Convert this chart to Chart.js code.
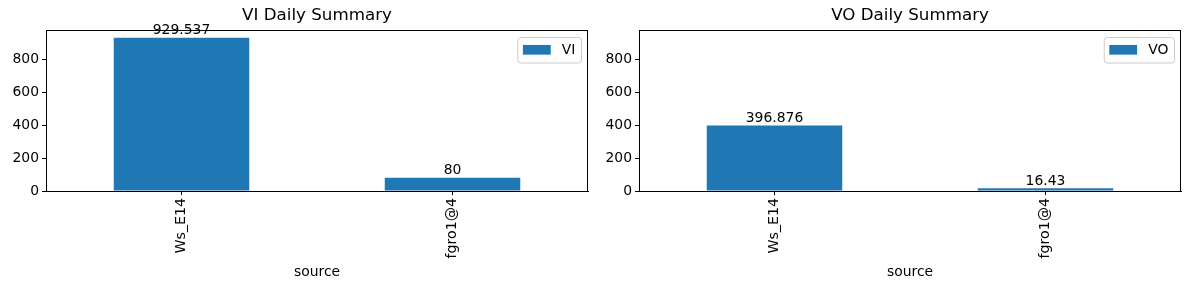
<!DOCTYPE html>
<html>
<head>
<meta charset="utf-8">
<script src="https://cdn.jsdelivr.net/npm/chart.js@4.4.1/dist/chart.umd.min.js"></script>
<style>
  html, body { margin: 0; padding: 0; background: #fff; }
  #wrap { position: relative; width: 1189px; height: 290px; }
  .panel { position: absolute; top: 0; height: 290px; }
</style>
</head>
<body>
<div id="wrap">
  <div class="panel" style="left:0;width:594px"><canvas id="graficoVI" width="594" height="290"></canvas></div>
  <div class="panel" style="left:594px;width:595px"><canvas id="graficoVO" width="595" height="290"></canvas></div>
</div>
<script>
// dados
const categorias = ['Ws_E14', 'fgro1@4'];
const valoresVI = [929.537, 80];
const valoresVO = [396.876, 16.43];
const ticksY = [0, 200, 400, 600, 800];
const AZUL = '#1f77b4';
const FONTE = 'DejaVu Sans';
const PX = 13.9;

// eixo y compartilhado (margem de 5% como no matplotlib)
const yMax = Math.max(...valoresVI, ...valoresVO) * 1.05;

// moldura completa em volta da area do grafico
const moldura = {
  id: 'moldura',
  afterDraw(chart) {
    const {ctx, chartArea: a} = chart;
    ctx.save();
    ctx.strokeStyle = '#000';
    ctx.lineWidth = 1;
    ctx.strokeRect(Math.round(a.left) + 0.5, Math.round(a.top) + 0.5,
      Math.round(a.right - a.left) - 1, Math.round(a.bottom - a.top));
    ctx.restore();
  }
};

// rotulos em cima das barras
const rotulosBarras = {
  id: 'rotulosBarras',
  afterDatasetsDraw(chart) {
    const ctx = chart.ctx;
    ctx.save();
    ctx.font = PX + 'px "' + FONTE + '"';
    ctx.fillStyle = '#000';
    ctx.textAlign = 'center';
    ctx.textBaseline = 'bottom';
    chart.data.datasets.forEach((ds, i) => {
      chart.getDatasetMeta(i).data.forEach((bar, j) => {
        ctx.fillText(String(ds.data[j]), bar.x, bar.y);
      });
    });
    ctx.restore();
  }
};

// legenda no canto superior direito, com caixa
const legendaCaixa = {
  id: 'legendaCaixa',
  afterDraw(chart) {
    const {ctx, chartArea: a} = chart;
    const ds = chart.data.datasets[0];
    ctx.save();
    ctx.font = PX + 'px "' + FONTE + '"';
    const tw = ctx.measureText(ds.label).width;
    const pad = 5.6, hl = 27.8, hh = 9.7, gap = 11.1;
    const w = pad + hl + gap + tw + pad;
    const h = 25.5;
    const x = a.right - 7 - w;
    const y = a.top + 7;
    ctx.beginPath();
    ctx.roundRect(x + 0.5, y + 0.5, w, h, 3);
    ctx.fillStyle = 'rgba(255,255,255,0.8)';
    ctx.fill();
    ctx.strokeStyle = '#cccccc';
    ctx.lineWidth = 1;
    ctx.stroke();
    ctx.fillStyle = ds.backgroundColor;
    ctx.fillRect(x + pad, y + h / 2 - hh / 2, hl, hh);
    ctx.fillStyle = '#000';
    ctx.textBaseline = 'middle';
    ctx.fillText(ds.label, x + pad + hl + gap, y + h / 2 + 1);
    ctx.restore();
  }
};

function criarGrafico(id, titulo, rotulo, valores, direita) {
  const ctx = document.getElementById(id).getContext('2d');
  return new Chart(ctx, {
    type: 'bar',
    data: {
      labels: categorias,
      datasets: [{
        label: rotulo,
        data: valores,
        backgroundColor: AZUL,
        categoryPercentage: 1,
        barPercentage: 0.5
      }]
    },
    options: {
      responsive: false,
      animation: false,
      devicePixelRatio: 1,
      layout: { padding: { top: 0, left: 0, right: direita, bottom: 0 } },
      plugins: {
        legend: { display: false },
        tooltip: { enabled: false },
        title: {
          display: true,
          text: titulo,
          color: '#000',
          fullSize: false,
          font: { family: FONTE, size: 16.7, weight: 'normal' },
          padding: { top: 6, bottom: 4 }
        }
      },
      scales: {
        x: {
          grid: { offset: false, drawOnChartArea: false, drawTicks: true, tickLength: 4, color: '#000' },
          border: { display: true, color: '#000' },
          ticks: {
            color: '#000', minRotation: 90, maxRotation: 90, padding: 3,
            font: { family: FONTE, size: 14.2 }
          },
          title: {
            display: true, text: 'source', color: '#000',
            font: { family: FONTE, size: PX },
            padding: { top: 0, bottom: 9 }
          },
          afterFit(s) { s.height = 99; }
        },
        y: {
          min: 0,
          max: yMax,
          afterBuildTicks(s) { s.ticks = ticksY.map(v => ({ value: v })); },
          grid: { drawOnChartArea: false, drawTicks: true, tickLength: 4, color: '#000' },
          border: { display: true, color: '#000' },
          ticks: {
            color: '#000', padding: 3,
            font: { family: FONTE, size: PX }
          },
          afterFit(s) { s.width = id === 'graficoVI' ? 46 : 45; }
        }
      }
    },
    plugins: [moldura, rotulosBarras, legendaCaixa]
  });
}

criarGrafico('graficoVI', 'VI Daily Summary', 'VI', valoresVI, 6);
criarGrafico('graficoVO', 'VO Daily Summary', 'VO', valoresVO, 8);
</script>
</body>
</html>
